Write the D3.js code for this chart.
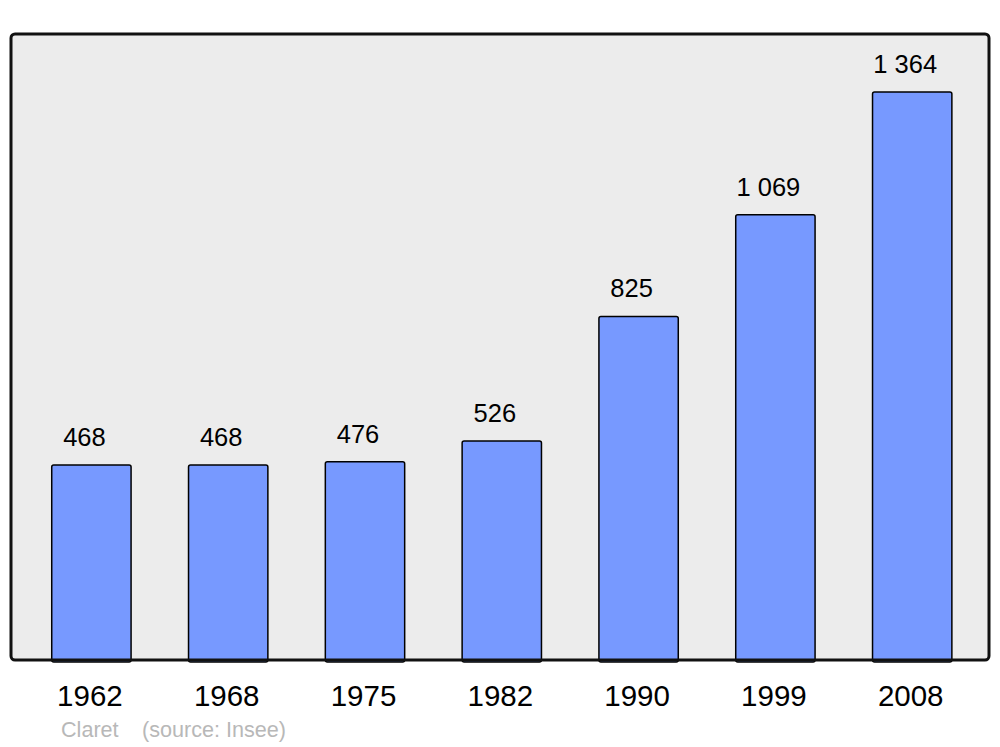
<!DOCTYPE html>
<html><head><meta charset="utf-8">
<script src="https://cdn.jsdelivr.net/npm/d3@7"></script>
<style>body{margin:0;background:#fff}svg{display:block}text{font-family:"Liberation Sans",Arial,sans-serif}</style>
</head><body>
<script>
const years = ["1962","1968","1975","1982","1990","1999","2008"];
const population = [468, 468, 476, 526, 825, 1069, 1364];
const valueLabels = ["468","468","476","526","825","1 069","1 364"];
const footLeft = "Claret";
const footRight = "(source: Insee)";

const W = 1000, H = 747;
const svg = d3.select("body").append("svg").attr("width", W).attr("height", H);

const panel = {x0: 11, x1: 989, y0: 34, y1: 660};
const x = d3.scaleBand().domain(years).range([23, 980.6]).paddingInner(0.42).paddingOuter(0.21);
const y = d3.scaleLinear().domain([0, 1503.3]).range([panel.y1, panel.y0]);

svg.append("rect").attr("x", panel.x0).attr("y", panel.y0)
  .attr("width", panel.x1 - panel.x0).attr("height", panel.y1 - panel.y0)
  .attr("rx", 4).attr("fill", "#ececec").attr("stroke", "none");

svg.selectAll("rect.bar").data(years).enter().append("rect").attr("class", "bar")
  .attr("x", d => x(d)).attr("width", x.bandwidth())
  .attr("y", (d, i) => y(population[i])).attr("height", (d, i) => y(0) - y(population[i]) + 2)
  .attr("rx", 2).attr("fill", "#7799ff").attr("stroke", "#000").attr("stroke-width", 1.5);

svg.append("rect").attr("x", panel.x0).attr("y", panel.y0)
  .attr("width", panel.x1 - panel.x0).attr("height", panel.y1 - panel.y0)
  .attr("rx", 4).attr("fill", "none").attr("stroke", "#111").attr("stroke-width", 3);

svg.selectAll("text.val").data(years).enter().append("text").attr("class", "val")
  .attr("x", d => x(d) + x.bandwidth() / 2 - 7)
  .attr("y", (d, i) => y(population[i]) - 19)
  .attr("text-anchor", "middle").attr("font-size", 25.5).attr("fill", "#000")
  .text((d, i) => valueLabels[i]);

svg.selectAll("text.yr").data(years).enter().append("text").attr("class", "yr")
  .attr("x", d => x(d) + x.bandwidth() / 2 - 1.5).attr("y", 706)
  .attr("text-anchor", "middle").attr("font-size", 29.5).attr("fill", "#000")
  .text(d => d);

svg.append("text").attr("x", 61).attr("y", 737)
  .attr("font-size", 21.6).attr("fill", "#b8b8b8").text(footLeft);
svg.append("text").attr("x", 142).attr("y", 737)
  .attr("font-size", 21.6).attr("fill", "#b8b8b8").text(footRight);
</script>
</body></html>
